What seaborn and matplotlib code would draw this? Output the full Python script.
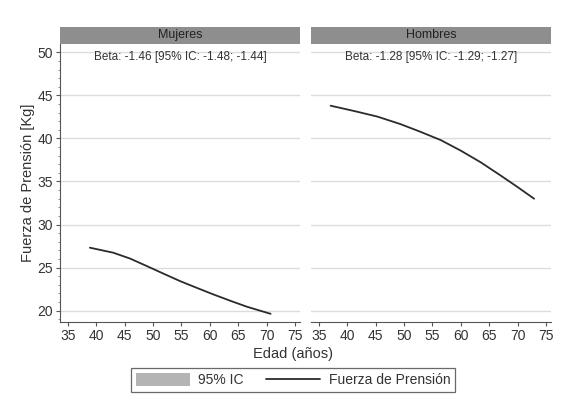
import numpy as np
import pandas as pd
import matplotlib
matplotlib.use("Agg")
import matplotlib.pyplot as plt
import seaborn as sns
from matplotlib.patches import Patch, Rectangle
from matplotlib.lines import Line2D
from matplotlib.ticker import MultipleLocator

# ----------------------------------
# Data
# ----------------------------------
edad_mujeres = [38.9, 43.0, 46.0, 48.9, 51.8, 54.8, 57.7, 60.6, 63.6, 66.5, 70.7]
fuerza_mujeres = [27.31, 26.73, 26.04, 25.18, 24.31, 23.42, 22.65, 21.89, 21.15, 20.46, 19.63]

edad_hombres = [37.1, 41.2, 45.3, 49.4, 52.9, 56.5, 60.0, 63.5, 67.0, 70.0, 72.9]
fuerza_hombres = [43.8, 43.19, 42.54, 41.66, 40.77, 39.8, 38.58, 37.23, 35.7, 34.35, 33.0]

paneles = ["Mujeres", "Hombres"]
betas = ["Beta: -1.46 [95% IC: -1.48; -1.44]",
         "Beta: -1.28 [95% IC: -1.29; -1.27]"]

df = pd.concat([
    pd.DataFrame({"Edad": edad_mujeres, "Fuerza": fuerza_mujeres, "Sexo": "Mujeres"}),
    pd.DataFrame({"Edad": edad_hombres, "Fuerza": fuerza_hombres, "Sexo": "Hombres"}),
])

# ----------------------------------
# Figure
# ----------------------------------
sns.set_style("white")
plt.rcParams["font.family"] = ["Liberation Sans", "DejaVu Sans"]

txt = "#333333"
fig = plt.figure(figsize=(5.86, 4.08), dpi=100)
bottom, top = 0.211, 0.892
lefts = [0.1024, 0.5307]
width = 0.4096

for i, sexo in enumerate(paneles):
    ax = fig.add_axes([lefts[i], bottom, width, top - bottom])
    sub = df[df["Sexo"] == sexo]
    sns.lineplot(data=sub, x="Edad", y="Fuerza", ax=ax, color="#2b2b2b",
                 linewidth=1.3, sort=False, estimator=None)
    ax.set_xlim(33.64, 75.88)
    ax.set_ylim(18.69, 50.96)
    ax.set_xticks(range(35, 80, 5))
    ax.set_yticks(range(20, 55, 5))
    ax.yaxis.grid(True, color="#dcdcdc", linewidth=1)
    ax.set_axisbelow(True)
    for s in ["top", "right"]:
        ax.spines[s].set_visible(False)
    ax.spines["bottom"].set_color("#555555")
    ax.tick_params(axis="x", direction="out", length=3, color="#555555",
                   labelsize=10, labelcolor=txt, pad=2, bottom=True)
    ax.set_xlabel("")
    ax.set_ylabel("")
    if i == 0:
        ax.spines["left"].set_color("#555555")
        ax.yaxis.set_minor_locator(MultipleLocator(1))
        ax.tick_params(axis="y", which="major", direction="out", length=3,
                       color="#555555", labelsize=10, labelcolor=txt, pad=2, left=True)
        ax.tick_params(axis="y", which="minor", direction="out", length=1.5,
                       color="#777777", left=True)
        ax.set_ylabel("Fuerza de Prensión [Kg]", fontsize=10.5, color=txt, labelpad=2)
    else:
        ax.spines["left"].set_visible(False)
        ax.tick_params(axis="y", left=False, labelleft=False)
    ax.text(0.5, 0.955, betas[i], transform=ax.transAxes, ha="center", va="center",
            fontsize=8.5, color=txt)
    # strip header
    fig.patches.append(Rectangle((lefts[i], top), width, 0.043, transform=fig.transFigure,
                                 facecolor="#8e8e8e", edgecolor="none"))
    fig.text(lefts[i] + width / 2, top + 0.0215, sexo, ha="center", va="center",
             fontsize=9, color="#222222")

fig.text(0.50, 0.132, "Edad (años)", ha="center", va="center", fontsize=10.5, color=txt)

handles = [Patch(facecolor="#b4b4b4", edgecolor="none"),
           Line2D([0], [0], color="#2b2b2b", linewidth=1.3)]
leg = fig.legend(handles, ["95% IC", "Fuerza de Prensión"], loc="center",
                 bbox_to_anchor=(0.5, 0.068), ncol=2, frameon=True, fancybox=False,
                 fontsize=10, handlelength=3.9, handleheight=1.0, columnspacing=1.6,
                 borderpad=0.35, handletextpad=0.6)
leg.get_frame().set_edgecolor("#444444")
leg.get_frame().set_linewidth(0.9)
for t in leg.get_texts():
    t.set_color(txt)

fig.savefig("out.png", dpi=100)
